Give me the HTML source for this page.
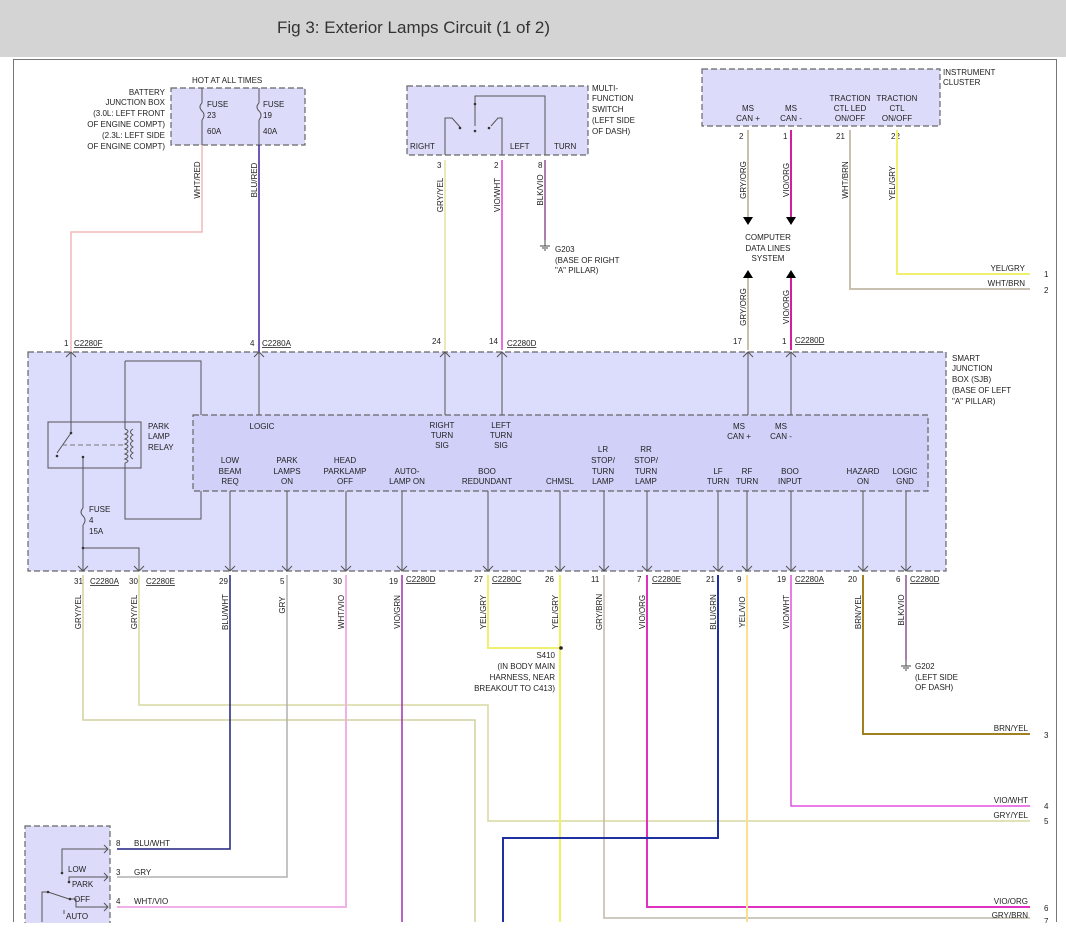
<!DOCTYPE html>
<html><head><meta charset="utf-8"><style>
body{margin:0;width:1066px;height:938px;overflow:hidden;background:#fff}
svg{display:block}
text{font-family:"Liberation Sans",sans-serif;font-size:8px;fill:#222}
.t{font-size:17px;fill:#333}
.d{stroke:#666;stroke-width:1.2;stroke-dasharray:6,3;}
.k{stroke:#555;stroke-width:1;fill:none}
</style></head><body>
<svg width="1066" height="938" viewBox="0 0 1066 938">
<rect x="0" y="0" width="1066" height="57" fill="#d4d4d4"/>
<text x="277" y="33" class="t">Fig 3: Exterior Lamps Circuit (1 of 2)</text>
<rect x="13.5" y="59.5" width="1043" height="900" fill="#fff" stroke="#777"/>
<rect x="0" y="922" width="1066" height="16" fill="#fff"/>

<!-- Battery junction box -->
<rect x="171" y="88" width="134" height="57" fill="#dcdcfa" class="d"/>
<text x="192" y="83">HOT AT ALL TIMES</text>
<g text-anchor="end"><text x="165" y="95">BATTERY</text><text x="165" y="105">JUNCTION BOX</text><text x="165" y="116">(3.0L: LEFT FRONT</text><text x="165" y="127">OF ENGINE COMPT)</text><text x="165" y="138">(2.3L: LEFT SIDE</text><text x="165" y="149">OF ENGINE COMPT)</text></g>
<path d="M202 88V103 M202 120V145 M259 88V103 M259 120V145" class="k"/>
<path d="M202 103q-4 4 0 8q4 4 0 9 M259 103q-4 4 0 8q4 4 0 9" class="k"/>
<text x="207" y="107">FUSE</text><text x="207" y="118">23</text><text x="207" y="134">60A</text>
<text x="263" y="107">FUSE</text><text x="263" y="118">19</text><text x="263" y="134">40A</text>

<!-- Multi function switch -->
<rect x="407" y="86" width="181" height="69" fill="#dcdcfa" class="d"/>
<text x="592" y="91">MULTI-</text><text x="592" y="101">FUNCTION</text><text x="592" y="112">SWITCH</text><text x="592" y="123">(LEFT SIDE</text><text x="592" y="134">OF DASH)</text>
<text x="410" y="149">RIGHT</text><text x="510" y="149">LEFT</text><text x="554" y="149">TURN</text>
<path d="M475 126V96H545V155 M475 104V126 M445 155V118l7 0 8 9 M502 155V118l-4 0-7 8" class="k"/>
<circle cx="475" cy="104" r="1.3" fill="#333"/><circle cx="475" cy="131" r="1.3" fill="#333"/><circle cx="460" cy="128" r="1.3" fill="#333"/><circle cx="489" cy="128" r="1.3" fill="#333"/>
<text x="437" y="168">3</text><text x="494" y="168">2</text><text x="538" y="168">8</text>
<path d="M545 160V240" stroke="#905090" stroke-width="1.5"/>
<path d="M540 246h10M542 248h6M544 250h2M545 240v6" stroke="#444"/>
<text x="555" y="252">G203</text><text x="555" y="263">(BASE OF RIGHT</text><text x="555" y="273">"A" PILLAR)</text>

<!-- Instrument cluster -->
<rect x="702" y="69" width="238" height="57" fill="#dcdcfa" class="d"/>
<text x="943" y="75">INSTRUMENT</text><text x="943" y="85">CLUSTER</text>
<g text-anchor="middle"><text x="748" y="111">MS</text><text x="748" y="121">CAN +</text><text x="791" y="111">MS</text><text x="791" y="121">CAN -</text>
<text x="850" y="101">TRACTION</text><text x="850" y="111">CTL LED</text><text x="850" y="121">ON/OFF</text>
<text x="897" y="101">TRACTION</text><text x="897" y="111">CTL</text><text x="897" y="121">ON/OFF</text>
<text x="768" y="240">COMPUTER</text><text x="768" y="251">DATA LINES</text><text x="768" y="261">SYSTEM</text></g>
<text x="739" y="139">2</text><text x="783" y="139">1</text><text x="836" y="139">21</text><text x="891" y="139">22</text>
<path d="M748 130V218M748 275V350" stroke="#c8c0a8" stroke-width="2"/>
<path d="M791 130V218M791 275V350" stroke="#d020a0" stroke-width="2"/>
<path d="M743 217h10l-5 8z M786 217h10l-5 8z M743 278h10l-5-8z M786 278h10l-5-8z" fill="#000"/>
<path d="M850 130V289H1030" stroke="#c8c0b0" stroke-width="2" fill="none"/>
<path d="M897 130V274H1030" stroke="#f0f070" stroke-width="2" fill="none"/>
<text x="1025" y="271" text-anchor="end">YEL/GRY</text><text x="1025" y="286" text-anchor="end">WHT/BRN</text>
<text x="1044" y="277">1</text><text x="1044" y="293">2</text>

<!-- upper wires -->
<path d="M202 145V232H71V352" stroke="#f0b8b8" stroke-width="1.5" fill="none"/>
<path d="M259 145V352" stroke="#4020a0" stroke-width="1.5"/>
<path d="M445 160V350" stroke="#e8e0a0" stroke-width="1.5"/>
<path d="M502 160V350" stroke="#e040d0" stroke-width="1.5"/>

<!-- rotated labels -->
<g>
<text transform="translate(200,180) rotate(-90)" text-anchor="middle">WHT/RED</text>
<text transform="translate(257,180) rotate(-90)" text-anchor="middle">BLU/RED</text>
<text transform="translate(443,195) rotate(-90)" text-anchor="middle">GRY/YEL</text>
<text transform="translate(500,195) rotate(-90)" text-anchor="middle">VIO/WHT</text>
<text transform="translate(543,190) rotate(-90)" text-anchor="middle">BLK/VIO</text>
<text transform="translate(746,180) rotate(-90)" text-anchor="middle">GRY/ORG</text>
<text transform="translate(789,180) rotate(-90)" text-anchor="middle">VIO/ORG</text>
<text transform="translate(848,180) rotate(-90)" text-anchor="middle">WHT/BRN</text>
<text transform="translate(895,183) rotate(-90)" text-anchor="middle">YEL/GRY</text>
<text transform="translate(746,307) rotate(-90)" text-anchor="middle">GRY/ORG</text>
<text transform="translate(789,307) rotate(-90)" text-anchor="middle">VIO/ORG</text>
</g>

<!-- connector labels top of SJB -->
<text x="64" y="346">1</text><text x="74" y="346" text-decoration="underline">C2280F</text>
<text x="250" y="346">4</text><text x="262" y="346" text-decoration="underline">C2280A</text>
<text x="432" y="344">24</text><text x="489" y="344">14</text><text x="507" y="346" text-decoration="underline">C2280D</text>
<text x="733" y="344">17</text><text x="782" y="344">1</text><text x="795" y="343" text-decoration="underline">C2280D</text>

<!-- SJB -->
<rect x="28" y="352" width="918" height="219" fill="#dcdcfc" class="d"/>
<text x="952" y="361">SMART</text><text x="952" y="371">JUNCTION</text><text x="952" y="382">BOX (SJB)</text><text x="952" y="393">(BASE OF LEFT</text><text x="952" y="404">"A" PILLAR)</text>
<rect x="193" y="415" width="735" height="76" fill="#d0d0f8" class="d"/>
<path d="M71 352V433l-14 20 M259 352V415 M445 352V415 M502 352V415 M748 352V415 M791 352V415" class="k"/>
<path d="M66 357l5-5 5 5M254 357l5-5 5 5M440 357l5-5 5 5M497 357l5-5 5 5M743 357l5-5 5 5M786 357l5-5 5 5" class="k"/>
<rect x="48" y="422" width="93" height="46" fill="none" stroke="#555"/>
<path d="M62 445H125" stroke="#777" stroke-dasharray="5,3"/>
<path d="M125 361H201V415 M125 361V429 M125 463V519H201V491 M83 457V508 M83 525V571 M83 548H139V571" class="k"/>
<path d="M125 429q6 2 0 5q6 2 0 5q6 2 0 5q6 2 0 5q6 2 0 5q6 2 0 5q6 2 0 4 M133 429q-5 3 0 6q-5 3 0 6q-5 3 0 6q-5 3 0 6q-5 3 0 6" class="k"/>
<path d="M83 508q-4 4 0 8q4 4 0 9" class="k"/>
<circle cx="57" cy="456" r="1.3" fill="#333"/><circle cx="83" cy="457" r="1.3" fill="#333"/><circle cx="71" cy="433" r="1.3" fill="#333"/><circle cx="83" cy="548" r="1.3" fill="#333"/>
<text x="148" y="429">PARK</text><text x="148" y="439">LAMP</text><text x="148" y="450">RELAY</text>
<text x="89" y="512">FUSE</text><text x="89" y="523">4</text><text x="89" y="534">15A</text>
<g text-anchor="middle">
<text x="262" y="429">LOGIC</text>
<text x="442" y="428">RIGHT</text><text x="442" y="438">TURN</text><text x="442" y="448">SIG</text>
<text x="501" y="428">LEFT</text><text x="501" y="438">TURN</text><text x="501" y="448">SIG</text>
<text x="739" y="429">MS</text><text x="739" y="439">CAN +</text><text x="781" y="429">MS</text><text x="781" y="439">CAN -</text>
<text x="230" y="463">LOW</text><text x="230" y="474">BEAM</text><text x="230" y="484">REQ</text>
<text x="287" y="463">PARK</text><text x="287" y="474">LAMPS</text><text x="287" y="484">ON</text>
<text x="345" y="463">HEAD</text><text x="345" y="474">PARKLAMP</text><text x="345" y="484">OFF</text>
<text x="407" y="474">AUTO-</text><text x="407" y="484">LAMP ON</text>
<text x="487" y="474">BOO</text><text x="487" y="484">REDUNDANT</text>
<text x="560" y="484">CHMSL</text>
<text x="603" y="452">LR</text><text x="603" y="463">STOP/</text><text x="603" y="474">TURN</text><text x="603" y="484">LAMP</text>
<text x="646" y="452">RR</text><text x="646" y="463">STOP/</text><text x="646" y="474">TURN</text><text x="646" y="484">LAMP</text>
<text x="718" y="474">LF</text><text x="718" y="484">TURN</text>
<text x="747" y="474">RF</text><text x="747" y="484">TURN</text>
<text x="790" y="474">BOO</text><text x="790" y="484">INPUT</text>
<text x="863" y="474">HAZARD</text><text x="863" y="484">ON</text>
<text x="905" y="474">LOGIC</text><text x="905" y="484">GND</text>
</g>
<path d="M230 491V571M287 491V571M346 491V571M402 491V571M488 491V571M560 491V571M604 491V571M647 491V571M718 491V571M747 491V571M791 491V571M863 491V571M906 491V571" class="k"/>
<path d="M78 566l5 5 5-5M134 566l5 5 5-5M225 566l5 5 5-5M282 566l5 5 5-5M341 566l5 5 5-5M397 566l5 5 5-5M483 566l5 5 5-5M555 566l5 5 5-5M599 566l5 5 5-5M642 566l5 5 5-5M713 566l5 5 5-5M742 566l5 5 5-5M786 566l5 5 5-5M858 566l5 5 5-5M901 566l5 5 5-5" class="k"/>

<!-- lower connector labels -->
<text x="74" y="584">31</text><text x="90" y="584" text-decoration="underline">C2280A</text>
<text x="129" y="584">30</text><text x="146" y="584" text-decoration="underline">C2280E</text>
<text x="219" y="584">29</text><text x="280" y="584">5</text><text x="333" y="584">30</text>
<text x="389" y="584">19</text><text x="406" y="582" text-decoration="underline">C2280D</text>
<text x="474" y="582">27</text><text x="492" y="582" text-decoration="underline">C2280C</text>
<text x="545" y="582">26</text><text x="591" y="582">11</text>
<text x="637" y="582">7</text><text x="652" y="582" text-decoration="underline">C2280E</text>
<text x="706" y="582">21</text><text x="737" y="582">9</text>
<text x="777" y="582">19</text><text x="795" y="582" text-decoration="underline">C2280A</text>
<text x="848" y="582">20</text><text x="896" y="582">6</text><text x="910" y="582" text-decoration="underline">C2280D</text>

<!-- lower wires -->
<g fill="none" stroke-width="1.5">
<path d="M83 575V720H475V922" stroke="#d0d0a0"/>
<path d="M139 575V705H488V821H1030" stroke="#d8d8a0"/>
<path d="M230 575V849H117" stroke="#202080"/>
<path d="M287 575V877H117" stroke="#b0b0b0"/>
<path d="M346 575V907H117" stroke="#f0b0e8" stroke-width="2"/>
<path d="M402 575V922" stroke="#a030b0"/>
<path d="M488 575V648H560" stroke="#f0f070" stroke-width="2"/>
<path d="M560 575V922" stroke="#f0f060" stroke-width="2"/>
<path d="M604 575V918H1030" stroke="#c0b8a8"/>
<path d="M647 575V907H1030" stroke="#e030c0" stroke-width="2"/>
<path d="M718 575V838H503V922" stroke="#2030a0" stroke-width="2"/>
<path d="M747 575V922" stroke="#f8e090" stroke-width="2"/>
<path d="M791 575V806H1030" stroke="#e050e0"/>
<path d="M863 575V734H1030" stroke="#a08020" stroke-width="2"/>
<path d="M906 575V660" stroke="#905090"/>
</g>
<circle cx="561" cy="648" r="1.8" fill="#222"/>
<path d="M901 666h10M903 668h6M905 670h2M906 660v6" stroke="#444"/>
<text x="915" y="669">G202</text><text x="915" y="680">(LEFT SIDE</text><text x="915" y="690">OF DASH)</text>
<g text-anchor="end"><text x="555" y="658">S410</text><text x="555" y="669">(IN BODY MAIN</text><text x="555" y="680">HARNESS, NEAR</text><text x="555" y="691">BREAKOUT TO C413)</text>
<text x="1028" y="731">BRN/YEL</text><text x="1028" y="803">VIO/WHT</text><text x="1028" y="818">GRY/YEL</text><text x="1028" y="904">VIO/ORG</text><text x="1028" y="918">GRY/BRN</text></g>
<text x="1044" y="738">3</text><text x="1044" y="809">4</text><text x="1044" y="824">5</text><text x="1044" y="911">6</text><text x="1044" y="924">7</text>
<g>
<text transform="translate(81,612) rotate(-90)" text-anchor="middle">GRY/YEL</text>
<text transform="translate(137,612) rotate(-90)" text-anchor="middle">GRY/YEL</text>
<text transform="translate(228,612) rotate(-90)" text-anchor="middle">BLU/WHT</text>
<text transform="translate(285,605) rotate(-90)" text-anchor="middle">GRY</text>
<text transform="translate(344,612) rotate(-90)" text-anchor="middle">WHT/VIO</text>
<text transform="translate(400,612) rotate(-90)" text-anchor="middle">VIO/GRN</text>
<text transform="translate(486,612) rotate(-90)" text-anchor="middle">YEL/GRY</text>
<text transform="translate(558,612) rotate(-90)" text-anchor="middle">YEL/GRY</text>
<text transform="translate(602,612) rotate(-90)" text-anchor="middle">GRY/BRN</text>
<text transform="translate(645,612) rotate(-90)" text-anchor="middle">VIO/ORG</text>
<text transform="translate(716,612) rotate(-90)" text-anchor="middle">BLU/GRN</text>
<text transform="translate(745,612) rotate(-90)" text-anchor="middle">YEL/VIO</text>
<text transform="translate(789,612) rotate(-90)" text-anchor="middle">VIO/WHT</text>
<text transform="translate(861,612) rotate(-90)" text-anchor="middle">BRN/YEL</text>
<text transform="translate(904,610) rotate(-90)" text-anchor="middle">BLK/VIO</text>
</g>

<!-- headlamp switch -->
<rect x="25" y="826" width="85" height="110" fill="#dcdcfa" class="d"/>
<path d="M62 873V849H108 M69 882V877H108 M42 922V892H48l21 7H76V907H108 M64 914V910" class="k"/>
<path d="M104 845l4 4-4 4M104 873l4 4-4 4M104 903l4 4-4 4" class="k"/>
<circle cx="62" cy="873" r="1.3" fill="#333"/><circle cx="69" cy="882" r="1.3" fill="#333"/><circle cx="48" cy="892" r="1.3" fill="#333"/><circle cx="70" cy="899" r="1.3" fill="#333"/>
<text x="68" y="872">LOW</text><text x="72" y="887">PARK</text><text x="74" y="902">OFF</text><text x="66" y="919">AUTO</text>
<text x="116" y="846">8</text><text x="134" y="846">BLU/WHT</text>
<text x="116" y="875">3</text><text x="134" y="875">GRY</text>
<text x="116" y="904">4</text><text x="134" y="904">WHT/VIO</text>
<rect x="0" y="923" width="1066" height="15" fill="#fff"/>
</svg>
</body></html>
